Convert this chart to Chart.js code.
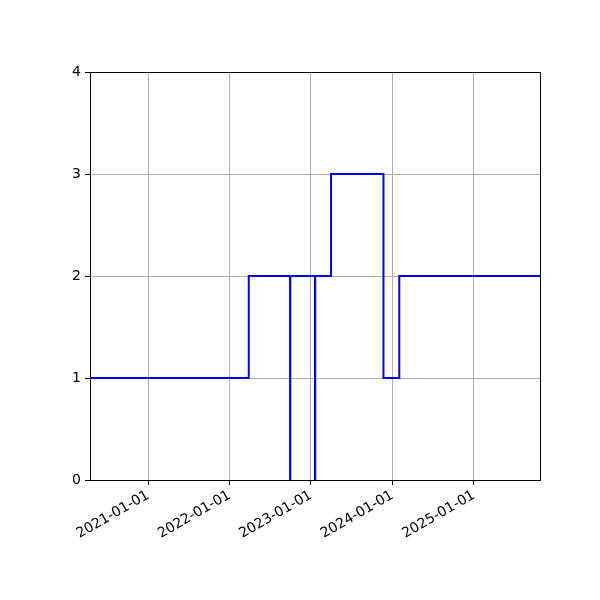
<!DOCTYPE html>
<html>
<head>
<meta charset="utf-8">
<script src="https://cdn.jsdelivr.net/npm/chart.js@4"></script>
<style>
  html, body { margin: 0; padding: 0; background: #fff; }
  canvas { display: block; }
</style>
</head>
<body>
<canvas id="stepChart" width="600" height="600"></canvas>
<script>
// step dates (value holds from this date until the next one)
const stepDates = [
  "2020-04-15", "2022-03-28", "2022-09-29", "2022-09-30", "2023-01-19",
  "2023-01-20", "2023-04-01", "2023-11-22", "2024-02-01", "2025-10-24",
];
const stepValues = [1, 2, 0, 2, 0, 2, 3, 1, 2, 2];

const xTickDates = ["2021-01-01", "2022-01-01", "2023-01-01", "2024-01-01", "2025-01-01"];
const yTicks = [0, 1, 2, 3, 4];

const DAY = 864e5;
const toDay = (s) => Date.parse(s + "T00:00:00Z") / DAY;
const fmtDay = (d) => new Date(Math.round(d) * DAY).toISOString().slice(0, 10);

const points = stepDates.map((d, i) => ({ x: toDay(d), y: stepValues[i] }));

// matplotlib-style full box around the axes
const framePlugin = {
  id: "frame",
  afterDraw(chart) {
    const { ctx, chartArea: a } = chart;
    ctx.save();
    ctx.strokeStyle = "#000";
    ctx.lineWidth = 1;
    ctx.strokeRect(Math.round(a.left) + 0.5, Math.round(a.top) + 0.5,
      Math.round(a.right - a.left), Math.round(a.bottom - a.top));
    ctx.restore();
  },
};

Chart.defaults.font.family = "'DejaVu Sans', sans-serif";
Chart.defaults.font.size = 14;
Chart.defaults.color = "#000";

new Chart(document.getElementById("stepChart"), {
  type: "line",
  plugins: [framePlugin],
  data: {
    datasets: [{
      data: points,
      stepped: true,
      borderColor: "#0000ff",
      borderWidth: 2,
      pointRadius: 0,
      fill: false,
    }],
  },
  options: {
    responsive: false,
    animation: false,
    devicePixelRatio: 1,
    layout: { padding: { top: 72, right: 60, left: 0, bottom: 0 } },
    plugins: { legend: { display: false }, tooltip: { enabled: false } },
    scales: {
      x: {
        type: "linear",
        min: toDay(stepDates[0]),
        max: toDay(stepDates[stepDates.length - 1]),
        afterBuildTicks: (s) => { s.ticks = xTickDates.map((d) => ({ value: toDay(d) })); },
        afterFit: (s) => { s.height = 120; },
        ticks: {
          callback: (v) => fmtDay(v),
          maxRotation: 30,
          minRotation: 30,
          padding: 2,
          autoSkip: false,
        },
        grid: { color: "#b0b0b0", lineWidth: 1, tickColor: "#000", tickLength: 5 },
        border: { color: "#000", width: 1 },
      },
      y: {
        min: 0,
        max: 4,
        afterBuildTicks: (s) => { s.ticks = yTicks.map((v) => ({ value: v })); },
        afterFit: (s) => { s.width = 90; },
        ticks: { padding: 4 },
        grid: { color: "#b0b0b0", lineWidth: 1, tickColor: "#000", tickLength: 5 },
        border: { color: "#000", width: 1 },
      },
    },
  },
});
</script>
</body>
</html>
